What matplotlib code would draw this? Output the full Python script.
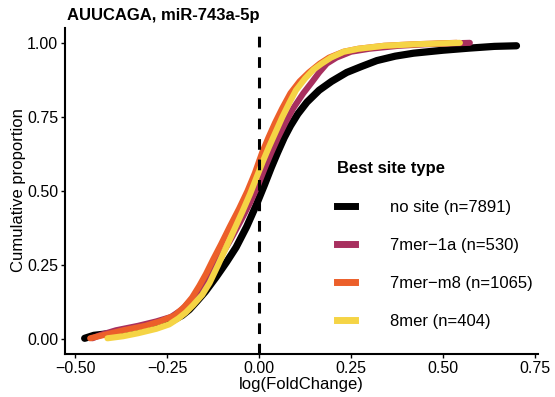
import matplotlib
matplotlib.use("Agg")
import matplotlib.pyplot as plt
from matplotlib.lines import Line2D

plt.rcParams['font.family'] = ['Liberation Sans', 'DejaVu Sans']

# ECDF curves: cumulative proportion -> log fold change
labels = ["no site (n=7891)", "7mer\u22121a (n=530)", "7mer\u2212m8 (n=1065)", "8mer (n=404)"]
colors = ["#000000", "#A8305F", "#EC5F2A", "#F5D445"]

nosite_y = [0.003, 0.013, 0.020, 0.030, 0.045, 0.060, 0.080, 0.100, 0.130, 0.160, 0.210, 0.260, 0.310,
            0.380, 0.450, 0.520, 0.580, 0.630, 0.680, 0.720, 0.760, 0.800, 0.840, 0.870, 0.900, 0.920,
            0.940, 0.955, 0.965, 0.975, 0.982, 0.988, 0.990]
nosite_x = [-0.475, -0.45, -0.40, -0.33, -0.28, -0.24, -0.21, -0.19, -0.168, -0.147, -0.117, -0.089, -0.063,
            -0.034, -0.009, 0.014, 0.033, 0.050, 0.068, 0.085, 0.105, 0.130, 0.163, 0.197, 0.238, 0.278,
            0.320, 0.370, 0.420, 0.500, 0.570, 0.640, 0.700]

m1a_y = [0.003, 0.015, 0.030, 0.045, 0.060, 0.075, 0.100, 0.140, 0.180, 0.230, 0.280, 0.340, 0.400, 0.460,
         0.520, 0.580, 0.630, 0.680, 0.730, 0.780, 0.830, 0.870, 0.900, 0.930, 0.950, 0.970, 0.980, 0.990,
         0.995, 1.000]
m1a_x = [-0.454, -0.43, -0.39, -0.33, -0.28, -0.24, -0.21, -0.18, -0.157, -0.130, -0.104, -0.076, -0.050, -0.025,
         -0.003, 0.016, 0.033, 0.051, 0.071, 0.093, 0.120, 0.145, 0.163, 0.184, 0.210, 0.250, 0.300, 0.380,
         0.450, 0.573]

m8_y = [0.003, 0.015, 0.030, 0.045, 0.060, 0.080, 0.110, 0.140, 0.180, 0.220, 0.270, 0.320, 0.380, 0.440,
        0.500, 0.560, 0.630, 0.680, 0.730, 0.780, 0.830, 0.870, 0.900, 0.930, 0.950, 0.970, 0.980, 0.990,
        0.995, 1.000]
m8_x = [-0.460, -0.42, -0.37, -0.31, -0.27, -0.23, -0.203, -0.183, -0.163, -0.145, -0.125, -0.104, -0.080, -0.055,
        -0.032, -0.012, 0.008, 0.025, 0.043, 0.063, 0.085, 0.110, 0.135, 0.165, 0.190, 0.230, 0.270, 0.340,
        0.420, 0.537]

mer8_y = [0.003, 0.010, 0.020, 0.035, 0.050, 0.070, 0.090, 0.115, 0.150, 0.190, 0.250, 0.310, 0.370, 0.430,
          0.490, 0.550, 0.600, 0.650, 0.700, 0.750, 0.800, 0.840, 0.880, 0.910, 0.930, 0.950, 0.970, 0.980,
          0.990, 0.995, 1.000]
mer8_x = [-0.413, -0.37, -0.33, -0.28, -0.245, -0.22, -0.20, -0.18, -0.155, -0.135, -0.112, -0.090, -0.068, -0.046,
          -0.025, -0.006, 0.010, 0.027, 0.045, 0.063, 0.083, 0.100, 0.125, 0.148, 0.170, 0.195, 0.230, 0.270,
          0.340, 0.420, 0.546]

curves = [(nosite_x, nosite_y), (m1a_x, m1a_y), (m8_x, m8_y), (mer8_x, mer8_y)]
widths = [5.2, 4.4, 4.4, 4.4]

xticks = [-0.50, -0.25, 0.00, 0.25, 0.50, 0.75]
yticks = [0.00, 0.25, 0.50, 0.75, 1.00]

fig = plt.figure(figsize=(5.55, 3.97), dpi=100)
ax = fig.add_axes([65/555, 43/397, 473/555, 326/397])

for (x, y), c, w in zip(curves, colors, widths):
    ax.plot(x, y, color=c, lw=w, solid_capstyle="round", solid_joinstyle="round")

ax.axvline(0, color="black", lw=2.2, linestyle=(0, (3.5, 3.2)))

ax.set_xlim(-0.5285, 0.7585)
ax.set_ylim(-0.05, 1.05)
ax.set_xticks(xticks)
ax.set_xticklabels([f"{v:.2f}".replace("-", "\u2212") for v in xticks])
ax.set_yticks(yticks)
ax.set_yticklabels([f"{v:.2f}" for v in yticks])
ax.tick_params(labelsize=11.5, length=3, width=1.0, color="black", labelcolor="black", pad=2)
for s in ["top", "right"]:
    ax.spines[s].set_visible(False)
for s in ["left", "bottom"]:
    ax.spines[s].set_linewidth(1.5)

fig.text(67/555, 1 - 8/397, "AUUCAGA, miR-743a-5p", fontsize=12, fontweight="bold", ha="left", va="top")
fig.text(19/555, 1 - 190/397, "Cumulative proportion", fontsize=12, rotation=90, ha="center", va="center")
fig.text(301.5/555, 1 - 384/397, "log(FoldChange)", fontsize=12, ha="center", va="center")

handles = []
for c, w in zip(colors, widths):
    if c == "#000000":
        handles.append(Line2D([], [], color=c, lw=5))
    else:
        handles.append(Line2D([], [], color=c, lw=5, marker="+", markersize=4, markeredgecolor=c))
leg = ax.legend(handles, labels, title="Best site type", loc="upper left",
                bbox_to_anchor=(337/555, 1 - 161/397), bbox_transform=fig.transFigure,
                frameon=False, borderpad=0, borderaxespad=0, handlelength=1.1,
                handletextpad=2.05, labelspacing=1.38, fontsize=12, alignment="left",
                title_fontproperties={"weight": "bold", "size": 12})
leg._legend_box.sep = 17

fig.savefig("out.png", dpi=100)
